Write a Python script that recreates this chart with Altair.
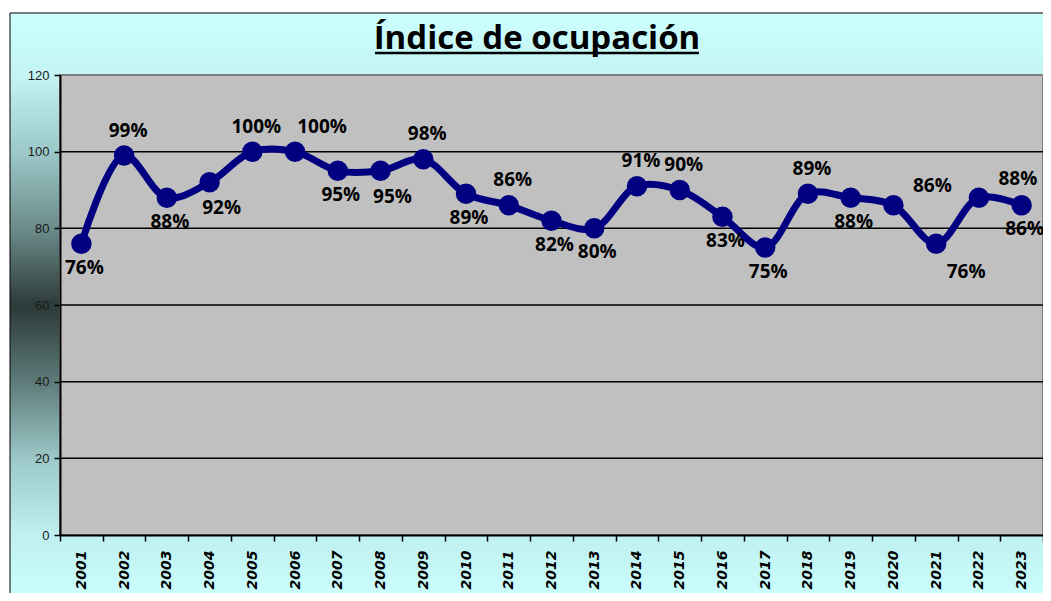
import altair as alt
import pandas as pd

years = [str(y) for y in range(2001, 2024)]
values = [76, 99, 88, 92, 100, 100, 95, 95, 98, 89, 86, 82, 80, 91, 90, 83, 75, 89, 88, 86, 76, 88, 86]
# where each data label sits relative to its point:
# a=above, b=below, A=above nudged right, B=below nudged right, ar/br=above/below pushed right
label_side = ["b", "a", "b", "B", "a", "A", "b", "B", "a", "b", "a", "b", "b", "a", "a", "b", "b", "a", "b", "ar", "br", "ar", "b"]
y_ticks = [0, 20, 40, 60, 80, 100, 120]
grid_values = [20, 40, 60, 80, 100]
title_text = "Índice de ocupación"

W, H = 983, 460
NAVY = "#000080"

df = pd.DataFrame({"year": years, "value": values, "side": label_side})
grid_df = pd.DataFrame({"value": grid_values})

x_scale = alt.Scale(type="band", paddingInner=0, paddingOuter=0)
x_axis = alt.Axis(title=None, tickBand="extent", labelAngle=270, grid=False, zindex=1,
                  labelFont="DejaVu Sans", labelFontSize=14, labelFontWeight="bold",
                  labelFontStyle="italic", labelColor="black", labelPadding=9,
                  tickSize=6, tickColor="black", tickWidth=1.5, domainColor="black", domainWidth=2)
y_scale = alt.Scale(domain=[0, 120], nice=False)
y_axis = alt.Axis(title=None, values=y_ticks, grid=False, zindex=1,
                  labelFont="Liberation Sans", labelFontSize=13, labelColor="#1a1a1a", labelPadding=5,
                  tickSize=6, tickColor="black", tickWidth=1.5, domainColor="black", domainWidth=2)

X = alt.X("year:O", scale=x_scale, axis=x_axis, bandPosition=0.5, sort=years)
Y = alt.Y("value:Q", scale=y_scale, axis=y_axis)

one = alt.Data(values=[{"k": 1}])

gradient = alt.LinearGradient(
    gradient="linear", x1=0, y1=0, x2=0, y2=1,
    stops=[
        alt.GradientStop(offset=0.0, color="#CCFFFF"),
        alt.GradientStop(offset=0.105, color="#C4F4F4"),
        alt.GradientStop(offset=0.236, color="#9CC8C8"),
        alt.GradientStop(offset=0.367, color="#6A8A88"),
        alt.GradientStop(offset=0.495, color="#2C3A38"),
        alt.GradientStop(offset=0.625, color="#5E7C7A"),
        alt.GradientStop(offset=0.753, color="#9CC8C8"),
        alt.GradientStop(offset=0.882, color="#C0F0F0"),
        alt.GradientStop(offset=1.0, color="#CCFFFF"),
    ],
)

frame = alt.Chart(one).mark_rect(fill=gradient, stroke="black", strokeWidth=1).encode(
    x=alt.value(-50), x2=alt.value(W + 20), y=alt.value(-62), y2=alt.value(H + 70)
)

plot_bg = alt.Chart(one).mark_rect(fill="#C0C0C0", stroke="#808080", strokeWidth=2).encode(
    x=alt.value(0), x2=alt.value(W), y=alt.value(0), y2=alt.value(H)
)

grid = alt.Chart(grid_df).mark_rule(color="black", strokeWidth=1.5).encode(
    y=Y, x=alt.value(0), x2=alt.value(W)
)

line = alt.Chart(df).mark_line(color=NAVY, strokeWidth=7, interpolate="catmull-rom").encode(
    x=X, y=Y
)
points = alt.Chart(df).mark_circle(color=NAVY, opacity=1, size=420).encode(x=X, y=Y)

def labels(sides, dx, dy):
    return (
        alt.Chart(df)
        .transform_filter(alt.FieldOneOfPredicate(field="side", oneOf=sides))
        .transform_calculate(lab="format(datum.value, 'd') + '%'")
        .mark_text(font="Open Sans", fontSize=19, fontWeight="bold", color="black",
                   baseline="middle", align="center", dx=dx, dy=dy)
        .encode(x=X, y=Y, text="lab:N")
    )

lab_a = labels(["a"], 4, -25)
lab_A = labels(["A"], 27, -25)
lab_b = labels(["b"], 3, 24)
lab_B = labels(["B"], 12, 26)
lab_ar = labels(["ar"], 39, -19)
lab_br = labels(["br"], 30, 28)

title = alt.Chart(one).mark_text(text=title_text, font="Open Sans", fontSize=33, fontWeight="bold",
                                 color="black", align="center", baseline="alphabetic").encode(
    x=alt.value(477), y=alt.value(-26)
)
underline = alt.Chart(one).mark_rule(color="black", strokeWidth=2.5).encode(
    x=alt.value(315), x2=alt.value(639), y=alt.value(-22)
)

chart = alt.layer(
    frame, plot_bg, grid, line, points, lab_a, lab_A, lab_b, lab_B, lab_ar, lab_br, title, underline
).properties(
    width=W, height=H,
    autosize=alt.AutoSizeParams(type="none"),
    padding={"left": 52, "top": 67, "right": 0, "bottom": 58},
).configure_view(stroke=None)

chart.save("out.html", embed_options={"renderer": "svg", "actions": False})
